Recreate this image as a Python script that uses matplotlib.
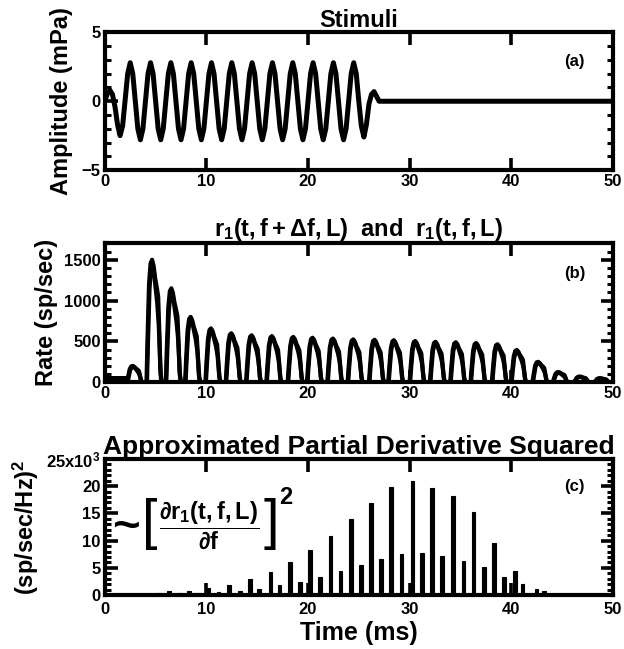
import numpy as np
import matplotlib
matplotlib.use("Agg")
import matplotlib.pyplot as plt
from matplotlib.ticker import MultipleLocator, FixedLocator, FuncFormatter

# ---------------- data ----------------
# (a) tone-burst stimulus, sampled every 0.25 ms (0..27 ms), then silence to 50 ms
stim_t = np.append(np.arange(0, 27.01, 0.25), 50.0)
stim_mpa = [
    0.0, 0.55, 0.8, 0.5, -0.4, -1.7, -2.5, -1.8,
    0.1, 2.0, 2.8, 2.0, 0.0, -2.0, -2.8, -2.0,
    0.0, 2.0, 2.8, 2.0, 0.0, -2.0, -2.8, -2.0,
    0.0, 2.0, 2.8, 2.0, 0.0, -2.0, -2.8, -2.0,
    0.0, 2.0, 2.8, 2.0, 0.0, -2.0, -2.8, -2.0,
    0.0, 2.0, 2.8, 2.0, 0.0, -2.0, -2.8, -2.0,
    0.0, 2.0, 2.8, 2.0, 0.0, -2.0, -2.8, -2.0,
    0.0, 2.0, 2.8, 2.0, 0.0, -2.0, -2.8, -2.0,
    0.0, 2.0, 2.8, 2.0, 0.0, -2.0, -2.8, -2.0,
    0.0, 2.0, 2.8, 2.0, 0.0, -2.0, -2.8, -2.0,
    0.0, 2.0, 2.8, 2.0, 0.0, -2.0, -2.8, -2.0,
    0.0, 2.0, 2.8, 2.0, 0.0, -2.0, -2.8, -2.0,
    0.0, 2.0, 2.8, 2.0, 0.0, -1.8, -2.6, -1.7,
    -0.2, 0.5, 0.7, 0.35, 0.0,
    0.0,
]

# (b) discharge rate: spontaneous part, then one bump per stimulus cycle
spont_t = [0.0, 2.2]
spont_rate = [50, 50]
peak_t = [2.8, 4.7, 6.6, 8.5, 10.5, 12.5, 14.5, 16.5, 18.6, 20.5, 22.5, 24.5,
          26.6, 28.5, 30.6, 32.6, 34.6, 36.6, 38.7, 40.6, 42.7, 44.7, 46.8, 48.8]
rate_df = [200, 1500, 1150, 800, 660, 600, 575, 565, 555, 545, 535, 525,
           520, 515, 505, 495, 490, 480, 465, 395, 250, 125, 70, 50]
rate_f = [190, 1440, 1100, 770, 640, 585, 560, 550, 540, 530, 520, 510,
          505, 500, 490, 480, 475, 465, 450, 380, 240, 115, 65, 45]
# bump profile (offset from peak in ms, fraction of peak)
bump_dt = [-0.6, -0.5, -0.35, -0.2, -0.05, 0.1, 0.25, 0.4, 0.55, 0.65, 0.75, 0.85]
bump_df = [0.0, 0.35, 0.8, 0.97, 1.0, 0.95, 0.85, 0.78, 0.7, 0.45, 0.12, 0.0]
bump_dt2 = [-0.55, -0.45, -0.3, -0.15, 0.0, 0.15, 0.3, 0.45, 0.6, 0.7, 0.8, 0.9]
bump_f = [0.0, 0.35, 0.8, 0.97, 1.0, 0.93, 0.8, 0.68, 0.5, 0.3, 0.08, 0.0]

# (c) approximated partial derivative squared, in units of 10^3 (sp/sec/Hz)^2
deriv_t = [4.3, 5.3, 6.3, 7.3, 8.3, 9.2,
           10.2, 11.2, 12.2, 13.3, 14.3, 15.2, 16.3, 17.2, 18.2, 19.2,
           20.2, 21.2, 22.2, 23.2, 24.2, 25.2, 26.2, 27.2, 28.2, 29.2,
           30.3, 31.2, 32.2, 33.2, 34.3, 35.3, 36.3, 37.3, 38.3, 39.3,
           40.4, 41.1, 42.5, 43.2, 44.6]
deriv_k = [0.25, 0.35, 0.7, 0.4, 0.8, 0.4,
           1.4, 0.5, 1.9, 0.8, 2.9, 1.2, 4.2, 1.8, 6.1, 2.5,
           8.3, 3.3, 10.9, 4.5, 13.9, 5.6, 16.9, 6.7, 19.9, 7.5,
           21.0, 7.7, 19.7, 7.2, 18.2, 6.3, 15.2, 5.2, 9.6, 3.4,
           4.5, 2.0, 1.2, 0.7, 0.2]

x_ticks = [0, 10, 20, 30, 40, 50]

# ---------------- style ----------------
plt.rcParams["font.family"] = ["Liberation Sans", "DejaVu Sans"]
plt.rcParams["font.weight"] = "bold"
plt.rcParams["axes.labelweight"] = "bold"
plt.rcParams["axes.titleweight"] = "bold"
plt.rcParams["mathtext.fontset"] = "custom"
plt.rcParams["mathtext.rm"] = "Liberation Sans:bold"
plt.rcParams["mathtext.it"] = "Liberation Sans:bold"
plt.rcParams["mathtext.bf"] = "Liberation Sans:bold"
plt.rcParams["mathtext.sf"] = "Liberation Sans:bold"


def build_rate(peaks, heights, dt, frac):
    t = list(spont_t)
    r = list(spont_rate)
    for p, h in zip(peaks, heights):
        t.extend(p + d for d in dt)
        r.extend(h * f for f in frac)
    return t, r


def style_axes(ax, ymajor, yminor):
    ax.set_xlim(0, 50)
    ax.xaxis.set_major_locator(FixedLocator(x_ticks))
    ax.yaxis.set_major_locator(MultipleLocator(ymajor))
    ax.yaxis.set_minor_locator(MultipleLocator(yminor))
    ax.tick_params(which="both", direction="in", top=True, right=True,
                   labelsize=12, pad=3)
    ax.tick_params(which="major", length=9, width=2.6)
    ax.tick_params(which="minor", length=4.5, width=2.2)
    for s in ax.spines.values():
        s.set_linewidth(3.0)


fig = plt.figure(figsize=(6.24, 6.49), dpi=100)
ax1 = fig.add_axes([0.168, 0.738, 0.814, 0.212])
ax2 = fig.add_axes([0.168, 0.411, 0.814, 0.214])
ax3 = fig.add_axes([0.168, 0.083, 0.814, 0.210])

# (a) stimuli
ax1.plot(stim_t, stim_mpa, color="black", linewidth=3.6, solid_joinstyle="round")
ax1.set_ylim(-5, 5)
style_axes(ax1, 5, 1)
ax1.set_title("Stimuli", fontsize=17, pad=2)
ax1.set_ylabel("Amplitude (mPa)", fontsize=17, labelpad=6)
ax1.text(0.925, 0.79, "(a)", transform=ax1.transAxes, fontsize=12,
         ha="center", va="center")

# (b) rates
t_df, r_df = build_rate(peak_t, rate_df, bump_dt, bump_df)
t_f, r_f = build_rate(peak_t, rate_f, bump_dt2, bump_f)
ax2.plot(t_df, r_df, color="black", linewidth=3.0, solid_joinstyle="round")
ax2.plot(t_f, r_f, color="black", linewidth=3.0, solid_joinstyle="round")
ax2.set_ylim(0, 1700)
style_axes(ax2, 500, 100)
ax2.set_title(r"$r_1(t,f+\Delta f,L)$  and  $r_1(t,f,L)$", fontsize=17, pad=2)
ax2.set_ylabel("Rate (sp/sec)", fontsize=17, labelpad=4)
ax2.text(0.925, 0.78, "(b)", transform=ax2.transAxes, fontsize=12,
         ha="center", va="center")

# (c) derivative squared
ax3.bar(deriv_t, deriv_k, width=0.36, color="black", edgecolor="black",
        linewidth=0.8)
ax3.set_ylim(0, 25)
style_axes(ax3, 5, 1)
ax3.tick_params(axis="x", pad=5)
ax3.yaxis.set_major_formatter(
    FuncFormatter(lambda v, p: r"25x10$^3$" if v >= 25 else f"{v:.0f}"))
ax3.set_title("Approximated Partial Derivative Squared", fontsize=19, pad=2)
ax3.set_ylabel(r"(sp/sec/Hz)$^2$", fontsize=17, labelpad=4)
ax3.set_xlabel("Time (ms)", fontsize=18, labelpad=3)
ax3.text(0.925, 0.8, "(c)", transform=ax3.transAxes, fontsize=12,
         ha="center", va="center")

# formula: ~ [ dr1(t,f,L) / df ]^2
ax3.text(2.1, 12.4, "~", fontsize=34, ha="center", va="center")
ax3.text(4.4, 13.0, "[", fontsize=40, fontweight="normal",
         ha="center", va="center")
ax3.text(10.3, 12.9, r"$\dfrac{\partial r_1(t,f,L)}{\partial f}$",
         fontsize=17, ha="center", va="center")
ax3.text(16.4, 13.0, "]", fontsize=40, fontweight="normal",
         ha="center", va="center")
ax3.text(17.8, 18.0, "2", fontsize=17, ha="center", va="center")

fig.savefig("out.png", dpi=100)
